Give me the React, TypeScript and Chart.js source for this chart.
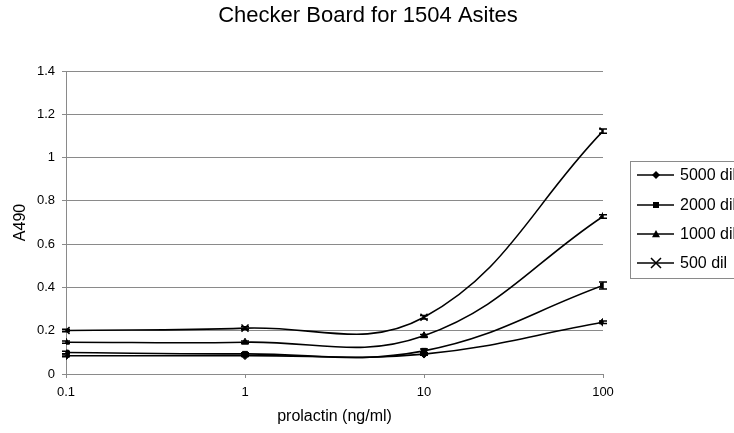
import React, { useEffect, useRef } from "react";
import { Chart, registerables } from "chart.js";

Chart.register(...registerables);

const FONT = "'Liberation Sans', Arial, sans-serif";

const TITLE = "Checker Board for 1504 Asites";
const X_TITLE = "prolactin (ng/ml)";
const Y_TITLE = "A490";

const concentrations = [0.1, 1, 10, 100];
const xTickValues = [0.1, 1, 10, 100];

const seriesLabels = ["5000 dil", "2000 dil", "1000 dil", "500 dil"];
const seriesStyles = ["rectRot", "rect", "triangle", "crossRot"];

const dil5000 = [0.084, 0.085, 0.092, 0.239];
const dil2000 = [0.099, 0.093, 0.107, 0.409];
const dil1000 = [0.147, 0.147, 0.177, 0.728];
const dil500 = [0.201, 0.212, 0.262, 1.122];

const err5000 = [0.004, 0.004, 0.005, 0.006];
const err2000 = [0.006, 0.005, 0.008, 0.016];
const err1000 = [0.005, 0.005, 0.006, 0.008];
const err500 = [0.006, 0.006, 0.008, 0.01];

const seriesValues = [dil5000, dil2000, dil1000, dil500];
const seriesErrors = [err5000, err2000, err1000, err500];

const GRID = "#8a8a8a";

function drawMarker(ctx: CanvasRenderingContext2D, style: string, x: number, y: number) {
  ctx.save();
  ctx.fillStyle = "#000";
  ctx.strokeStyle = "#000";
  ctx.lineWidth = 1.5;
  ctx.beginPath();
  if (style === "rectRot") {
    const r = 4;
    ctx.moveTo(x, y - r);
    ctx.lineTo(x + r, y);
    ctx.lineTo(x, y + r);
    ctx.lineTo(x - r, y);
    ctx.closePath();
    ctx.fill();
  } else if (style === "rect") {
    const r = 3;
    ctx.rect(x - r, y - r, 2 * r, 2 * r);
    ctx.fill();
  } else if (style === "triangle") {
    const r = 4;
    ctx.moveTo(x, y - r);
    ctx.lineTo(x + r, y + r * 0.8);
    ctx.lineTo(x - r, y + r * 0.8);
    ctx.closePath();
    ctx.fill();
  } else {
    const r = 5;
    ctx.moveTo(x - r, y - r);
    ctx.lineTo(x + r, y + r);
    ctx.moveTo(x + r, y - r);
    ctx.lineTo(x - r, y + r);
    ctx.stroke();
  }
  ctx.restore();
}

const titlePlugin = {
  id: "centerTitle",
  afterDraw(chart: any) {
    const ctx = chart.ctx as CanvasRenderingContext2D;
    ctx.save();
    ctx.fillStyle = "#000";
    ctx.font = `22px ${FONT}`;
    ctx.textAlign = "center";
    ctx.textBaseline = "middle";
    ctx.fillText(TITLE, 368, 16);
    ctx.restore();
  },
};

const errorBarPlugin = {
  id: "errorBars",
  afterDatasetsDraw(chart: any) {
    const ctx = chart.ctx as CanvasRenderingContext2D;
    const xs = chart.scales.x;
    const ys = chart.scales.y;
    ctx.save();
    ctx.strokeStyle = "#000";
    ctx.lineWidth = 1.5;
    seriesValues.forEach((vals, si) => {
      vals.forEach((v, i) => {
        const e = seriesErrors[si][i];
        const px = xs.getPixelForValue(concentrations[i]);
        const top = ys.getPixelForValue(v + e);
        const bot = ys.getPixelForValue(v - e);
        ctx.beginPath();
        ctx.moveTo(px, top);
        ctx.lineTo(px, bot);
        ctx.moveTo(px - 4, top);
        ctx.lineTo(px + 4, top);
        ctx.moveTo(px - 4, bot);
        ctx.lineTo(px + 4, bot);
        ctx.stroke();
      });
    });
    ctx.restore();
  },
};

const legendPlugin = {
  id: "boxLegend",
  afterDraw(chart: any) {
    const ctx = chart.ctx as CanvasRenderingContext2D;
    const left = 630;
    const top = 161;
    const rowYs = [175, 205, 234, 263];
    ctx.save();
    ctx.strokeStyle = GRID;
    ctx.lineWidth = 1;
    ctx.strokeRect(left + 0.5, top + 0.5, 200, 117);
    ctx.font = `16px ${FONT}`;
    ctx.textBaseline = "middle";
    ctx.textAlign = "left";
    seriesLabels.forEach((label, i) => {
      const y = rowYs[i];
      ctx.strokeStyle = "#000";
      ctx.lineWidth = 1.5;
      ctx.beginPath();
      ctx.moveTo(637, y);
      ctx.lineTo(674, y);
      ctx.stroke();
      drawMarker(ctx, seriesStyles[i], 656, y);
      ctx.fillStyle = "#000";
      ctx.fillText(label, 680, y + 1);
    });
    ctx.restore();
  },
};

export default function App() {
  const canvasRef = useRef<HTMLCanvasElement | null>(null);

  useEffect(() => {
    if (!canvasRef.current) return;
    const chart = new Chart(canvasRef.current, {
      type: "line",
      data: {
        datasets: seriesLabels.map((label, si) => ({
          label,
          data: concentrations.map((x, i) => ({ x, y: seriesValues[si][i] })),
          borderColor: "#000",
          backgroundColor: "#000",
          borderWidth: 1.6,
          tension: 0.4,
          pointStyle: seriesStyles[si] as any,
          pointRadius: si === 3 ? 5 : si === 1 ? 3.5 : 4,
          pointBorderWidth: si === 3 ? 1.5 : 1,
          pointBackgroundColor: "#000",
          pointBorderColor: "#000",
          fill: false,
        })),
      },
      options: {
        animation: false,
        responsive: false,
        events: [],
        layout: { padding: { left: 0, right: 131, top: 71, bottom: 0 } },
        plugins: {
          legend: { display: false },
          tooltip: { enabled: false },
          title: { display: false },
        },
        scales: {
          x: {
            type: "logarithmic",
            min: 0.1,
            max: 100,
            afterBuildTicks: (s: any) => {
              s.ticks = xTickValues.map((v) => ({ value: v }));
            },
            afterFit: (s: any) => {
              s.height = 59;
            },
            ticks: {
              color: "#000",
              font: { family: FONT, size: 13 },
              padding: 7,
              autoSkip: false,
              maxRotation: 0,
              callback: (v: any) => String(v),
            },
            grid: {
              drawOnChartArea: false,
              drawTicks: true,
              tickLength: 4,
              color: GRID,
            },
            border: { color: GRID, width: 1 },
            title: {
              display: true,
              text: X_TITLE,
              color: "#000",
              font: { family: FONT, size: 16 },
              padding: { top: 0, bottom: 7 },
            },
          },
          y: {
            min: 0,
            max: 1.4,
            afterFit: (s: any) => {
              s.width = 66;
            },
            ticks: {
              stepSize: 0.2,
              color: "#000",
              font: { family: FONT, size: 13 },
              padding: 7,
              callback: (v: any) => String(Math.round(Number(v) * 10) / 10),
            },
            grid: {
              color: GRID,
              tickLength: 4,
              lineWidth: 1,
            },
            border: { color: GRID, width: 1 },
            title: {
              display: true,
              text: Y_TITLE,
              color: "#000",
              font: { family: FONT, size: 16 },
              padding: { top: 11, bottom: 0 },
            },
          },
        },
      },
      plugins: [errorBarPlugin, legendPlugin, titlePlugin],
    } as any);
    return () => chart.destroy();
  }, []);

  return (
    <div style={{ position: "fixed", left: 0, top: 0, width: 734, height: 433, background: "#fff", overflow: "hidden" }}>
      <canvas ref={canvasRef} width={734} height={433} style={{ width: 734, height: 433, display: "block" }} />
    </div>
  );
}
